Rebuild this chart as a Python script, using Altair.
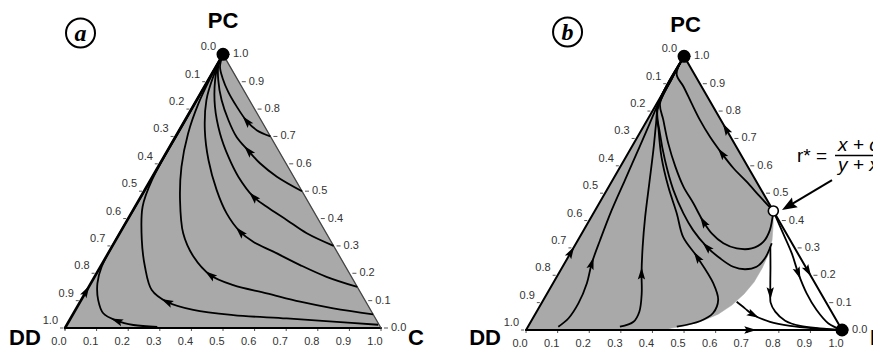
import math
import altair as alt
import pandas as pd

# ------------------------------------------------------------------
# DATA  (compositions)
# panel a: (c, p) = (share of C, share of PC); share of DD = 1 - c - p
# panel b: (d, p) = (share of D, share of PC); share of DD = 1 - d - p
# ------------------------------------------------------------------
A1 = [(0.30, 0.70), (0.245, 0.723), (0.196, 0.757), (0.139, 0.809), (0.085, 0.863),
      (0.043, 0.912), (0.013, 0.955), (0.0, 1.0)]
A2 = [(0.50, 0.50), (0.394, 0.553), (0.316, 0.602), (0.256, 0.648), (0.193, 0.699),
      (0.137, 0.760), (0.079, 0.833), (0.032, 0.906), (0.005, 0.961), (0.0, 1.0)]
A3 = [(0.70, 0.30), (0.592, 0.346), (0.504, 0.395), (0.417, 0.443), (0.356, 0.480),
      (0.272, 0.553), (0.204, 0.626), (0.135, 0.711), (0.070, 0.809), (0.022, 0.906),
      (0.002, 0.967), (0.0, 1.0)]
A4 = [(0.85, 0.15), (0.734, 0.187), (0.629, 0.230), (0.520, 0.279), (0.438, 0.315),
      (0.378, 0.352), (0.302, 0.419), (0.228, 0.504), (0.147, 0.614), (0.081, 0.723),
      (0.031, 0.833), (0.010, 0.918), (0.0, 1.0)]
A5 = [(0.95, 0.05), (0.813, 0.072), (0.696, 0.096), (0.575, 0.127), (0.454, 0.157),
      (0.362, 0.194), (0.276, 0.261), (0.201, 0.346), (0.130, 0.468), (0.074, 0.589),
      (0.034, 0.711), (0.012, 0.821), (0.003, 0.918), (0.0, 1.0)]
A6 = [(0.985, 0.012), (0.837, 0.023), (0.684, 0.035), (0.509, 0.047), (0.373, 0.066),
      (0.274, 0.096), (0.205, 0.139), (0.141, 0.224), (0.082, 0.322), (0.024, 0.443),
      (0.005, 0.541), (0.002, 0.75), (0.0, 1.0)]
A7 = [(0.29, 0.004), (0.211, 0.011), (0.150, 0.027), (0.094, 0.054), (0.054, 0.102),
      (0.021, 0.163), (0.004, 0.224), (0.001, 0.5), (0.0, 1.0)]
A_TRAJ = {"a1": A1, "a2": A2, "a3": A3, "a4": A4, "a5": A5, "a6": A6, "a7": A7}
A_ARROW_AT = {"a1": 2, "a2": 3, "a3": 4, "a4": 5, "a5": 5, "a6": 5, "a7": 2}
A_EDGE_ARROWS = [((0.0, 0.10), (0.0, 0.17))]

B1 = [(0.565, 0.435), (0.497, 0.487), (0.427, 0.542), (0.361, 0.591), (0.296, 0.646),
      (0.229, 0.706), (0.167, 0.767), (0.110, 0.828), (0.054, 0.889), (0.009, 0.935),
      (0.0, 1.0)]
B2 = [(0.565, 0.435), (0.589, 0.365), (0.590, 0.323), (0.565, 0.298), (0.518, 0.298),
      (0.466, 0.317), (0.411, 0.353), (0.363, 0.396), (0.298, 0.463), (0.236, 0.524),
      (0.174, 0.597), (0.109, 0.682), (0.051, 0.767), (0.010, 0.828), (0.002, 0.92),
      (0.0, 1.0)]
B3 = [(0.619, 0.317), (0.625, 0.262), (0.614, 0.231), (0.582, 0.222), (0.540, 0.231),
      (0.483, 0.262), (0.420, 0.304), (0.346, 0.365), (0.285, 0.426), (0.210, 0.512),
      (0.129, 0.621), (0.064, 0.719), (0.014, 0.804), (0.002, 0.92), (0.0, 1.0)]
B4 = [(0.471, 0.012), (0.535, 0.033), (0.561, 0.062), (0.553, 0.110), (0.506, 0.172),
      (0.408, 0.267), (0.327, 0.340), (0.264, 0.426), (0.188, 0.524), (0.112, 0.633),
      (0.054, 0.731), (0.008, 0.816), (0.0, 1.0)]
B5 = [(0.291, 0.012), (0.325, 0.030), (0.325, 0.067), (0.299, 0.134), (0.262, 0.207),
      (0.217, 0.304), (0.170, 0.414), (0.122, 0.536), (0.074, 0.658), (0.034, 0.755),
      (0.005, 0.828), (0.0, 1.0)]
B6 = [(0.096, 0.012), (0.113, 0.043), (0.117, 0.098), (0.107, 0.171), (0.086, 0.244),
      (0.070, 0.329), (0.052, 0.438), (0.039, 0.548), (0.026, 0.658), (0.014, 0.755),
      (0.005, 0.828), (0.0, 1.0)]
B7 = [(0.565, 0.435), (0.637, 0.353), (0.701, 0.280), (0.758, 0.207), (0.821, 0.134),
      (0.883, 0.073), (0.945, 0.024), (1.0, 0.0)]
B8 = [(0.621, 0.304), (0.658, 0.231), (0.683, 0.180), (0.706, 0.134), (0.724, 0.100),
      (0.755, 0.067), (0.803, 0.034), (0.860, 0.015), (0.927, 0.006), (1.0, 0.0)]
B9 = [(0.615, 0.103), (0.653, 0.079), (0.692, 0.055), (0.757, 0.030), (0.828, 0.015),
      (0.906, 0.006), (1.0, 0.0)]
B_TRAJ = {"b1": B1, "b2": B2, "b3": B3, "b4": B4, "b5": B5, "b6": B6,
          "b7": B7, "b8": B8, "b9": B9}
B_ARROW_AT = {"b1": 4, "b2": 7, "b3": 6, "b4": 5, "b5": 4, "b6": 4,
              "b7": 3, "b8": 3, "b9": 2}
B_EDGE_ARROWS = [((0.0, 0.25), (0.0, 0.32)),      # left edge, upwards
                 ((0.30, 0.70), (0.23, 0.77)),    # right edge, towards PC
                 ((0.75, 0.25), (0.82, 0.18)),    # right edge, towards D
                 ((0.68, 0.0), (0.74, 0.0))]      # base, towards D
# boundary of the grey basin of attraction of PC in panel b
B_GRAY = [(0.0, 0.0), (0.0, 1.0), (0.565, 0.435), (0.590, 0.384), (0.614, 0.329),
          (0.629, 0.274), (0.634, 0.227), (0.634, 0.175), (0.624, 0.132),
          (0.606, 0.091), (0.579, 0.058), (0.541, 0.033), (0.498, 0.016),
          (0.458, 0.007), (0.44, 0.0)]
R_STAR = (0.565, 0.435)
TICKS = [k / 10 for k in range(11)]

# ------------------------------------------------------------------
# LAYOUT helpers
# ------------------------------------------------------------------
PXU = 316.0                      # pixels per unit of triangle side
H = math.sqrt(3) / 2
OFF = {"a": (0.0, 0.0), "b": (1.459, -0.0063)}
W_PX, H_PX = 865, 342
XDOM = [-0.1804, -0.1804 + W_PX / PXU]
YDOM = [1.0127 - H_PX / PXU, 1.0127]


def cart(panel, c, p, dxp=0.0, dyp=0.0):
    ox, oy = OFF[panel]
    return ox + c + p / 2 + dxp / PXU, oy + p * H - dyp / PXU


def heading(x0, y0, x1, y1):
    return (math.degrees(math.atan2(x1 - x0, y1 - y0)) + 360) % 360


X = alt.X("x:Q", scale=alt.Scale(domain=XDOM, nice=False, zero=False), axis=None)
Y = alt.Y("y:Q", scale=alt.Scale(domain=YDOM, nice=False, zero=False), axis=None)
X2 = alt.X2("x2:Q")
Y2 = alt.Y2("y2:Q")

# grey fills
fill_rows = []
for pid, panel, poly in [("fa", "a", [(0, 0), (1, 0), (0, 1)]), ("fb", "b", B_GRAY)]:
    for i, (c, p) in enumerate(poly):
        x, y = cart(panel, c, p)
        fill_rows.append({"id": pid, "i": i, "x": x, "y": y})
fill_df = pd.DataFrame(fill_rows)

# triangle edges
edge_rows = []
edges = [("a", "L", (0, 0), (0, 1), 2.6, "black"),
         ("a", "B", (0, 0), (1, 0), 2.0, "black"),
         ("a", "R", (1, 0), (0, 1), 1.3, "#444444"),
         ("b", "L", (0, 0), (0, 1), 2.0, "black"),
         ("b", "B", (0, 0), (1, 0), 2.0, "black"),
         ("b", "R", (1, 0), (0, 1), 2.0, "black")]
for panel, nm, s, e, w, col in edges:
    for i, (c, p) in enumerate([s, e]):
        x, y = cart(panel, c, p)
        edge_rows.append({"id": panel + nm, "i": i, "x": x, "y": y, "w": w, "col": col})
edge_df = pd.DataFrame(edge_rows)

# trajectories + arrowheads
curve_rows, arrow_rows = [], []
for panel, traj, at in [("a", A_TRAJ, A_ARROW_AT), ("b", B_TRAJ, B_ARROW_AT)]:
    for cid, pts in traj.items():
        xy = [cart(panel, c, p) for c, p in pts]
        for i, (x, y) in enumerate(xy):
            curve_rows.append({"id": cid, "i": i, "x": x, "y": y})
        k = at[cid]
        x0, y0 = xy[k - 1]
        x1, y1 = xy[k + 1]
        arrow_rows.append({"x": xy[k][0], "y": xy[k][1], "angle": heading(x0, y0, x1, y1)})
for panel, lst in [("a", A_EDGE_ARROWS), ("b", B_EDGE_ARROWS)]:
    for s, e in lst:
        x0, y0 = cart(panel, *s)
        x1, y1 = cart(panel, *e)
        arrow_rows.append({"x": (x0 + x1) / 2, "y": (y0 + y1) / 2,
                           "angle": heading(x0, y0, x1, y1)})
curve_df = pd.DataFrame(curve_rows)
arrow_df = pd.DataFrame(arrow_rows)

# equilibrium points
dot_df = pd.DataFrame([dict(zip(("x", "y"), cart("a", 0, 1))),
                       dict(zip(("x", "y"), cart("b", 0, 1))),
                       dict(zip(("x", "y"), cart("b", 1, 0)))])
open_df = pd.DataFrame([dict(zip(("x", "y"), cart("b", *R_STAR)))])

# tick labels and tick marks
bot_rows, right_rows, left_rows, tick_rows = [], [], [], []
for panel in ("a", "b"):
    for t in TICKS:
        lab = f"{t:.1f}"
        x, y = cart(panel, t, 0.0)
        bot_rows.append({"x": x, "y": y, "text": lab})
        x2, y2 = cart(panel, t, 0.0, 0, 3)
        tick_rows.append({"x": x, "y": y, "x2": x2, "y2": y2})
        x, y = cart(panel, 1 - t, t)
        right_rows.append({"x": x, "y": y, "text": lab})
        xa, ya = cart(panel, 1 - t, t, 3, 0)
        xb, yb = cart(panel, 1 - t, t, 7, 0)
        tick_rows.append({"x": xa, "y": ya, "x2": xb, "y2": yb})
        x, y = cart(panel, 0.0, 1 - t)
        left_rows.append({"x": x, "y": y, "text": lab})
        xa, ya = cart(panel, 0.0, 1 - t, -2, 0)
        xb, yb = cart(panel, 0.0, 1 - t, -5, 0)
        tick_rows.append({"x": xa, "y": ya, "x2": xb, "y2": yb})
bot_df, right_df, left_df = map(pd.DataFrame, (bot_rows, right_rows, left_rows))
tick_df = pd.DataFrame(tick_rows)

# vertex names (alphabetic baseline, pixel offsets from the vertex)
name_rows = []
for panel, c, p, dx, dy, txt, size in [
        ("a", 0, 1, 0, -26.5, "PC", 22), ("a", 0, 0, -40, 17, "DD", 22),
        ("a", 1, 0, 35, 17, "C", 22),
        ("b", 0, 1, 1.5, -24.5, "PC", 22), ("b", 0, 0, -41, 15, "DD", 22),
        ("b", 1, 0, 36, 15, "D", 22)]:
    x, y = cart(panel, c, p, dx, dy)
    name_rows.append({"x": x, "y": y, "text": txt, "size": size})
name_df = pd.DataFrame(name_rows)

# circled panel letters
letter_rows = []
for panel, dx, dy, txt in [("a", -142.5, -21.3, "a"), ("b", -116.5, -24.3, "b")]:
    x, y = cart(panel, 0, 1, dx, dy)
    letter_rows.append({"x": x, "y": y, "text": txt})
letter_df = pd.DataFrame(letter_rows)

# r* annotation (offsets in pixels from r*)
rc, rp = R_STAR
tx, ty = cart("b", rc, rp, 58.7, -30.9)
hx, hy = cart("b", rc, rp, 15.1, -4.8)
ann_line_df = pd.DataFrame([{"x": tx, "y": ty, "x2": hx, "y2": hy}])
ann_head_df = pd.DataFrame([{"x": hx, "y": hy, "angle": heading(tx, ty, hx, hy)}])
bx1, by1 = cart("b", rc, rp, 61.7, -55.4)
bx2, by2 = cart("b", rc, rp, 110, -55.4)
bar_df = pd.DataFrame([{"x": bx1, "y": by1, "x2": bx2, "y2": by2}])
rx, ry = cart("b", rc, rp, 23.7, -49)
nx, ny = cart("b", rc, rp, 64.7, -60.4)
dnx, dny = cart("b", rc, rp, 64.7, -39.6)
req_df = pd.DataFrame([{"x": rx, "y": ry, "text": "r* ="}])
num_df = pd.DataFrame([{"x": nx, "y": ny, "text": "x + c"}])
den_df = pd.DataFrame([{"x": dnx, "y": dny, "text": "y + x"}])

# ------------------------------------------------------------------
# CHART
# ------------------------------------------------------------------
FONT = "Liberation Sans"
ARROW = "M0,-1L0.6,1L0,0.62L-0.6,1Z"
BIG_ARROW = "M0,-1L0.75,1L0,0.7L-0.75,1Z"

fill = alt.Chart(fill_df).mark_line(
    interpolate="linear-closed", fill="#a9a9a9", stroke="#a9a9a9", strokeWidth=0.5
).encode(x=X, y=Y, detail="id:N", order="i:Q")

edge = alt.Chart(edge_df).mark_line(strokeCap="round").encode(
    x=X, y=Y, detail="id:N", order="i:Q",
    color=alt.Color("col:N", scale=None),
    strokeWidth=alt.StrokeWidth("w:Q", scale=None))

curves = alt.Chart(curve_df).mark_line(
    color="black", strokeWidth=1.8, interpolate="catmull-rom"
).encode(x=X, y=Y, detail="id:N", order="i:Q")

arrows = alt.Chart(arrow_df).mark_point(
    shape=ARROW, filled=True, color="black", size=150, opacity=1, strokeWidth=0
).encode(x=X, y=Y, angle=alt.Angle("angle:Q", scale=None))

ticks = alt.Chart(tick_df).mark_rule(color="#555555", strokeWidth=1).encode(
    x=X, y=Y, x2=X2, y2=Y2)

dots = alt.Chart(dot_df).mark_point(
    shape="circle", filled=True, color="black", size=170, opacity=1).encode(x=X, y=Y)
opend = alt.Chart(open_df).mark_point(
    shape="circle", filled=True, fill="white", stroke="black", strokeWidth=1.6,
    size=100, opacity=1).encode(x=X, y=Y)


def labels(df, align, dx, dy):
    return alt.Chart(df).mark_text(
        align=align, baseline="middle", dx=dx, dy=dy, font=FONT, fontSize=11,
        color="#333333").encode(x=X, y=Y, text="text:N")


bot = labels(bot_df, "center", -6, 14)
right = labels(right_df, "left", 10, 0)
left = labels(left_df, "right", -7, -7)

names = alt.Chart(name_df).mark_text(
    align="center", baseline="alphabetic", font=FONT, fontWeight="bold", color="black"
).encode(x=X, y=Y, text="text:N", size=alt.Size("size:Q", scale=None))

rings = alt.Chart(letter_df).mark_point(
    shape="circle", filled=False, color="black", strokeWidth=2, size=841, opacity=1
).encode(x=X, y=Y)
letters = alt.Chart(letter_df).mark_text(
    align="center", baseline="middle", dy=1, font="Liberation Serif",
    fontStyle="italic", fontWeight="bold", fontSize=24, color="black"
).encode(x=X, y=Y, text="text:N")

ann_line = alt.Chart(ann_line_df).mark_rule(color="black", strokeWidth=2).encode(
    x=X, y=Y, x2=X2, y2=Y2)
ann_head = alt.Chart(ann_head_df).mark_point(
    shape=BIG_ARROW, filled=True, color="black", size=225, opacity=1, strokeWidth=0
).encode(x=X, y=Y, angle=alt.Angle("angle:Q", scale=None))
bar = alt.Chart(bar_df).mark_rule(color="black", strokeWidth=1.5).encode(
    x=X, y=Y, x2=X2, y2=Y2)
req = alt.Chart(req_df).mark_text(
    align="left", baseline="alphabetic", font=FONT, fontSize=19, color="black"
).encode(x=X, y=Y, text="text:N")
num = alt.Chart(num_df).mark_text(
    align="left", baseline="alphabetic", font=FONT, fontSize=19, fontStyle="italic",
    color="black").encode(x=X, y=Y, text="text:N")
den = alt.Chart(den_df).mark_text(
    align="left", baseline="alphabetic", font=FONT, fontSize=19, fontStyle="italic",
    color="black").encode(x=X, y=Y, text="text:N")

chart = alt.layer(
    fill, ticks, edge, curves, arrows, dots, opend, bot, right, left, names,
    rings, letters, ann_line, ann_head, bar, req, num, den
).properties(
    width=W_PX, height=H_PX, padding=0, autosize=alt.AutoSizeParams(type="none"),
    background="white"
).configure_view(strokeWidth=0)

chart.save("out.html", embed_options={"renderer": "svg", "actions": False})
